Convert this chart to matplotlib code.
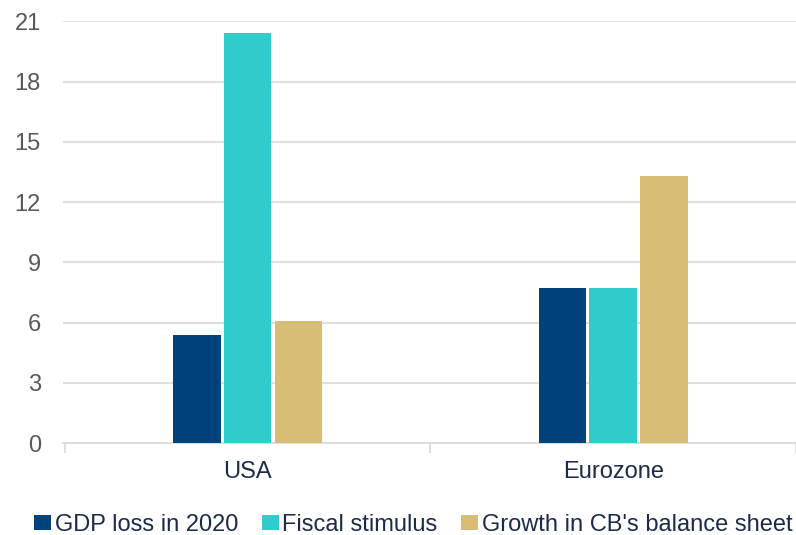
import numpy as np
import matplotlib
matplotlib.use("Agg")
import matplotlib.pyplot as plt

# data
regions = ["USA", "Eurozone"]
series = ["GDP loss in 2020", "Fiscal stimulus", "Growth in CB's balance sheet"]
gdp_loss = [5.4, 7.7]
fiscal = [20.4, 7.7]
cb_growth = [6.1, 13.3]
y_ticks = [0, 3, 6, 9, 12, 15, 18, 21]

#visuals
COLORS = ["#00437C", "#2ECDCC", "#D7BD76"]
GRID = "#D9D9D9"
TICK_GRAY = "#595959"
NAVY_TEXT = "#1C2B4A"

plt.rcParams["font.family"] = ["Liberation Sans", "DejaVu Sans"]

fig = plt.figure(figsize=(7.96, 5.35), dpi=100)
ax = fig.add_axes([63 / 796, 92 / 535, 733 / 796, 421.7 / 535])

x = np.arange(len(regions))
width = 0.13
step = 0.139
for i, (name, vals) in enumerate(zip(series, [gdp_loss, fiscal, cb_growth])):
    ax.bar(x + (i - 1) * step, vals, width, color=COLORS[i], label=name, zorder=3)

ax.set_ylim(0, 21)
ax.set_yticks(y_ticks)
ax.set_xlim(-0.505, 1.485)
ax.yaxis.grid(True, color=GRID, linewidth=1.2, zorder=0)
ax.tick_params(axis="y", length=0, labelsize=17, labelcolor=TICK_GRAY, pad=16)

# category labels without tick marks, boundary ticks as minor ticks
ax.set_xticks(x)
ax.set_xticklabels(regions)
ax.tick_params(axis="x", which="major", length=0, labelsize=17, labelcolor=NAVY_TEXT, pad=13)
ax.set_xticks([-0.5, 0.5, 1.5], minor=True)
ax.tick_params(axis="x", which="minor", length=7, color=GRID, width=1.2)

for s in ["top", "right", "left"]:
    ax.spines[s].set_visible(False)
ax.spines["bottom"].set_color(GRID)
ax.spines["bottom"].set_linewidth(1.2)

fig.legend(loc="center", bbox_to_anchor=(0.519, 0.019), ncol=3, frameon=False,
           fontsize=17, handlelength=0.72, handleheight=0.64, handletextpad=0.15,
           columnspacing=1.0, labelcolor=NAVY_TEXT)

fig.savefig("out.png", dpi=100)
